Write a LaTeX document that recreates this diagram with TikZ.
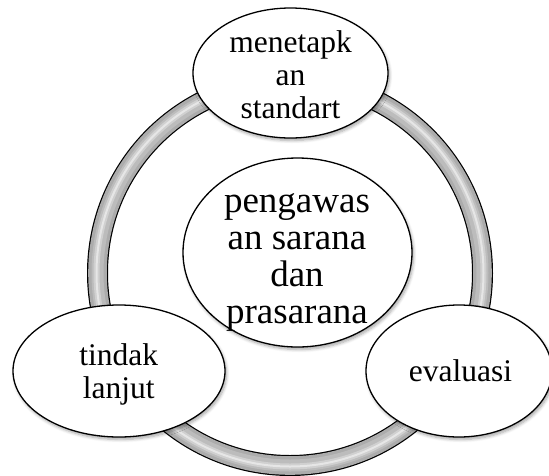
\documentclass[tikz,border=0pt]{standalone}
\usepackage{fontspec}
\setmainfont{Liberation Serif}
\usetikzlibrary{shapes.geometric,shadows.blur}
\definecolor{ringA}{RGB}{172,172,172}
\definecolor{ringB}{RGB}{188,188,188}
\definecolor{ringC}{RGB}{208,208,208}
\definecolor{ringD}{RGB}{230,230,230}
\begin{document}
\begin{tikzpicture}[x=1pt,y=-1pt,
  bubble/.style={ellipse, draw=black, line width=1.3pt, fill=white, inner sep=0pt,
    blur shadow={shadow xshift=1.5pt, shadow yshift=-2.5pt, shadow blur steps=6,
      shadow blur radius=3pt, shadow opacity=35}},
  smalltxt/.style={align=center, inner sep=0pt, font=\fontsize{31.5}{32.8}\selectfont},
  bigtxt/.style={align=center, inner sep=0pt, font=\fontsize{37}{36.8}\selectfont}]
\useasboundingbox (0,0) rectangle (549,475);
% ring
\coordinate (ringc) at (290,273);
\draw[black, line width=21pt] (ringc) circle[radius=192.5];
\draw[ringA, line width=18.6pt] (ringc) circle[radius=192.5];
\draw[ringB, line width=12pt] (ringc) circle[radius=192.5];
\draw[ringC, line width=6pt] (ringc) circle[radius=193.5];
\draw[ringD, line width=2pt] (ringc) circle[radius=193.5];
% bubbles
\node[bubble, minimum width=195pt, minimum height=130pt] (top) at (290.5,73) {};
\node[bubble, minimum width=212pt, minimum height=132pt] (left) at (119,371) {};
\node[bubble, minimum width=186pt, minimum height=132pt] (right) at (459,371) {};
\node[bubble, minimum width=229pt, minimum height=189pt] (mid) at (297.5,252.5) {};
% texts
\node[smalltxt] (toptext) at (290.5,79.2) {\strut menetapk\\an\\standart\strut};
\node[smalltxt] (lefttext) at (118.8,375.1) {\strut tindak\\lanjut\strut};
\node[smalltxt] (righttext) at (460.5,375.1) {\strut evaluasi\strut};
\node[bigtxt] (midtext) at (297,260.5) {\strut pengawas\\an sarana\\dan\\prasarana\strut};
\end{tikzpicture}
\end{document}
